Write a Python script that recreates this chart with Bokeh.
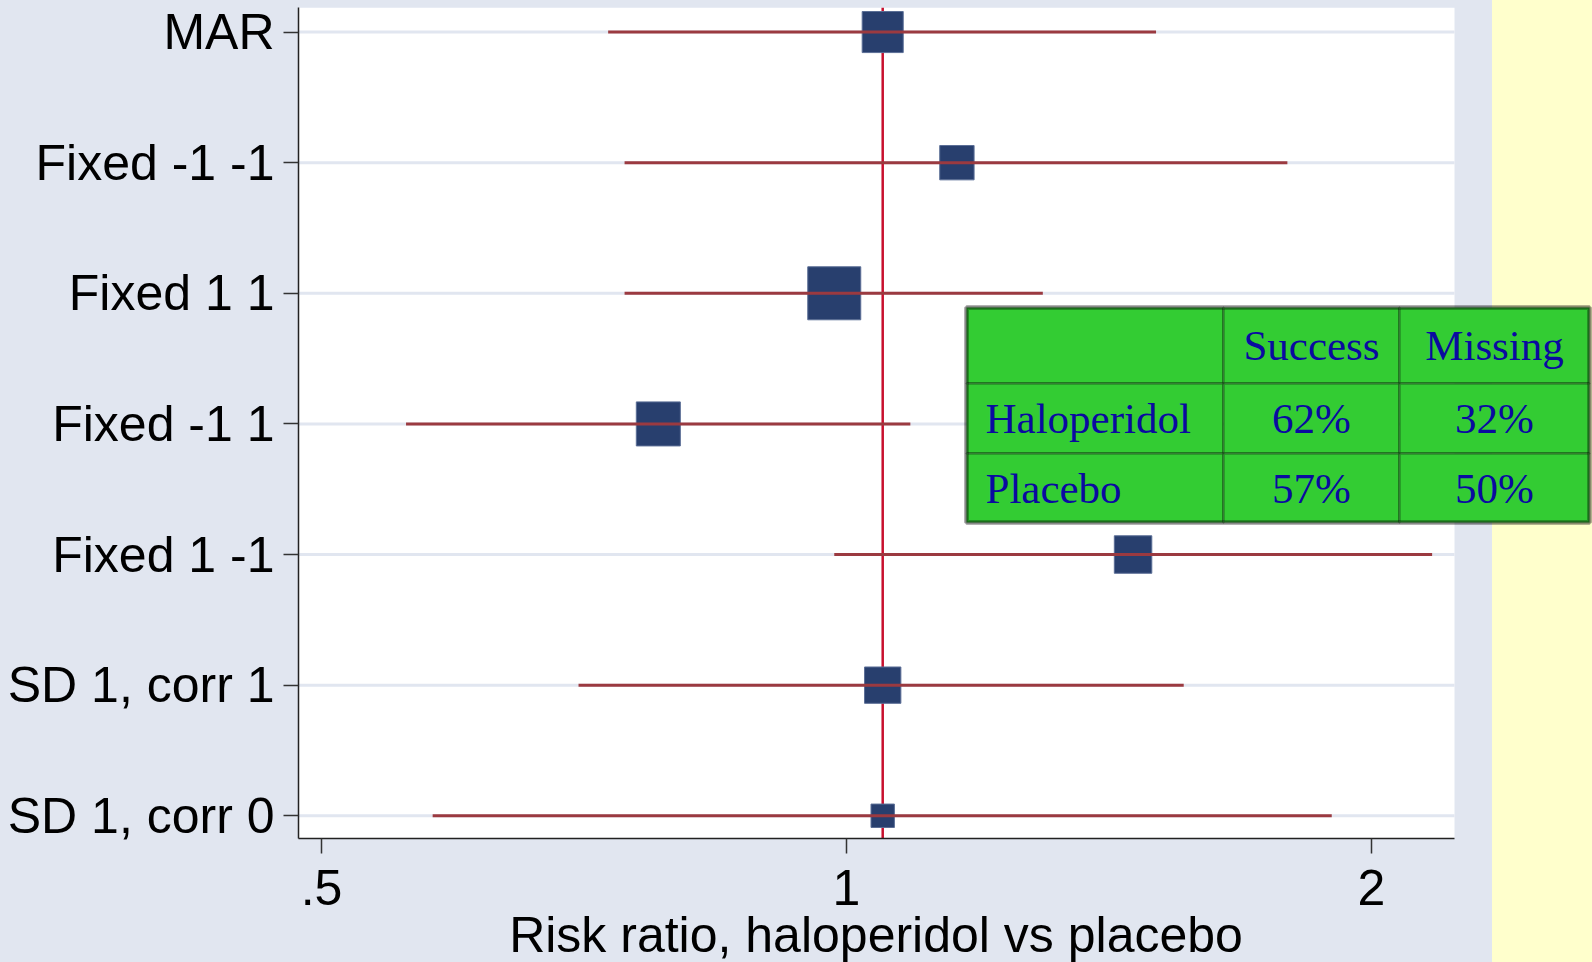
from bokeh.plotting import figure
from bokeh.models import (ColumnDataSource, Range1d, FixedTicker, Span,
                          BoxAnnotation, Label, Div)
from bokeh.layouts import column
from bokeh.embed import file_html
from bokeh.resources import INLINE
import numpy as np

# Sensitivity analyses: risk ratio (haloperidol vs placebo) with 95% CI
analyses = ["MAR", "Fixed -1 -1", "Fixed 1 1", "Fixed -1 1",
            "Fixed 1 -1", "SD 1, corr 1", "SD 1, corr 0"]
risk_ratio = [1.049, 1.157, 0.984, 0.780, 1.460, 1.049, 1.049]
ci_low = [0.730, 0.746, 0.746, 0.559, 0.984, 0.702, 0.579]
ci_high = [1.505, 1.790, 1.296, 1.088, 2.167, 1.561, 1.898]
weight = [0.60, 0.42, 1.00, 0.69, 0.50, 0.47, 0.195]

# Summary of the trial arms
arms = ["Haloperidol", "Placebo"]
success_pct = [62, 57]
missing_pct = [32, 50]
table_header = ["Success", "Missing"]

x_ticks = [0.5, 1, 2]
x_tick_labels = [".5", "1", "2"]
x_title = "Risk ratio, haloperidol vs placebo"

n = len(analyses)
ypos = [n - i for i in range(n)]

src = ColumnDataSource(dict(
    y=ypos, rr=risk_ratio, lo=ci_low, hi=ci_high,
    size=[53 * np.sqrt(w) for w in weight],
))

W = 1592
FIG_H = 918                # figure part; the axis title sits underneath
TITLE_H = 44
LEFT, TOP, BOTTOM = 298, 7, 80
PLOT_RIGHT = 1454          # right edge of the white plotting area (px)
STRIP_LEFT = 1492          # start of the pale strip on the right (px)
BG = "#E1E6F0"
STRIP = "#FFFFCC"
page_bg = (f"linear-gradient(to right, {BG} 0px, {BG} {STRIP_LEFT}px, "
           f"{STRIP} {STRIP_LEFT}px, {STRIP} 100%)")

# log x extent of the white area; the frame itself runs to the page edge
x_lo, x_hi = 0.485, 2.232
x_end = x_lo * (x_hi / x_lo) ** ((W - LEFT) / (PLOT_RIGHT - LEFT))
y_lo, y_hi = 0.826, 7.188

p = figure(width=W, height=FIG_H, x_axis_type="log",
           x_range=Range1d(x_lo, x_end), y_range=Range1d(y_lo, y_hi),
           output_backend="svg", toolbar_location=None,
           min_border_left=LEFT, min_border_right=0,
           min_border_top=TOP, min_border_bottom=BOTTOM)
p.background_fill_alpha = 0
p.border_fill_alpha = 0
p.outline_line_color = None
p.styles = {"background": page_bg}

# white plotting area
p.add_layout(BoxAnnotation(right=x_hi, fill_color="white", fill_alpha=1,
                           line_color=None, level="image"))

# axes
sans = "Liberation Sans"
p.xaxis.ticker = FixedTicker(ticks=x_ticks)
p.xaxis.major_label_overrides = {t: s for t, s in zip(x_ticks, x_tick_labels)}
p.xaxis.bounds = (x_lo, x_hi)
p.yaxis.ticker = FixedTicker(ticks=ypos)
p.yaxis.major_label_overrides = {y: s for y, s in zip(ypos, analyses)}
for ax in (p.xaxis, p.yaxis):
    ax.axis_line_color = "#222222"
    ax.axis_line_width = 1.5
    ax.major_tick_line_color = "#333333"
    ax.major_tick_line_width = 1.5
    ax.major_tick_out = 15
    ax.major_tick_in = 0
    ax.minor_tick_line_color = None
    ax.major_label_text_font = sans
    ax.major_label_text_font_size = "50px"
    ax.major_label_text_color = "black"
p.yaxis.major_label_standoff = 9
p.xaxis.major_label_standoff = 16

# horizontal guide lines, limited to the white area
p.xgrid.grid_line_color = None
p.ygrid.grid_line_color = None
p.segment(x0=x_lo, x1=x_hi, y0="y", y1="y", source=src,
          line_color=BG, line_width=3, level="underlay")

# reference line at the MAR estimate
p.add_layout(Span(location=risk_ratio[0], dimension="height",
                  line_color="#C8102E", line_width=2.5, level="underlay"))

p.scatter(x="rr", y="y", size="size", marker="square", source=src,
          fill_color="#283F6E", line_color="#5B6E96", line_width=1)
p.segment(x0="lo", y0="y", x1="hi", y1="y", source=src,
          line_color="#9B3A40", line_width=3)

# arm summary table, placed in frame pixels
def sx(px):
    return px - LEFT

def sy(py):
    return (FIG_H - BOTTOM) - py

col_edges = [966, 1223, 1399, 1589]
row_edges = [307, 383, 453, 522]
green = "#33CC33"
for r in range(3):
    for c in range(3):
        p.add_layout(BoxAnnotation(
            left=sx(col_edges[c]), right=sx(col_edges[c + 1]),
            top=sy(row_edges[r]), bottom=sy(row_edges[r + 1]),
            left_units="screen", right_units="screen",
            top_units="screen", bottom_units="screen",
            fill_color=green, fill_alpha=1, line_color="black",
            line_width=2.5, level="overlay"))
p.add_layout(BoxAnnotation(
    left=sx(col_edges[0]), right=sx(col_edges[-1]),
    top=sy(row_edges[0]), bottom=sy(row_edges[-1]),
    left_units="screen", right_units="screen",
    top_units="screen", bottom_units="screen",
    fill_alpha=0, line_color="black", line_width=5, level="overlay"))

serif = "Liberation Serif"
ink = "#0A0AA0"
fs = "43px"

def cell_text(txt, px, py, align):
    p.add_layout(Label(x=sx(px), y=sy(py), x_units="screen", y_units="screen",
                       text=txt, text_font=serif, text_font_size=fs,
                       text_color=ink, text_align=align,
                       text_baseline="middle", level="overlay"))

col_mid = [(col_edges[i] + col_edges[i + 1]) / 2 for i in range(3)]
row_mid = [(row_edges[i] + row_edges[i + 1]) / 2 for i in range(3)]
for j, h in enumerate(table_header):
    cell_text(h, col_mid[j + 1], row_mid[0], "center")
for i, arm in enumerate(arms):
    cell_text(arm, col_edges[0] + 19, row_mid[i + 1], "left")
    cell_text(f"{success_pct[i]}%", col_mid[1], row_mid[i + 1], "center")
    cell_text(f"{missing_pct[i]}%", col_mid[2], row_mid[i + 1], "center")

# x-axis title, centred under the white plotting area
title_html = (f'<div style="margin-left:{LEFT}px; width:{PLOT_RIGHT - LEFT}px; '
              f'height:{TITLE_H}px; line-height:35px; text-align:center; '
              f'white-space:nowrap; font-family:\'{sans}\'; font-size:50px; '
              f'color:black;">{x_title}</div>')
x_title_div = Div(text=title_html, width=W, height=TITLE_H,
                  styles={"background": page_bg, "margin": "0", "padding": "0"})

layout = column(p, x_title_div, spacing=0)
open("out.html", "w").write(file_html(layout, INLINE))
